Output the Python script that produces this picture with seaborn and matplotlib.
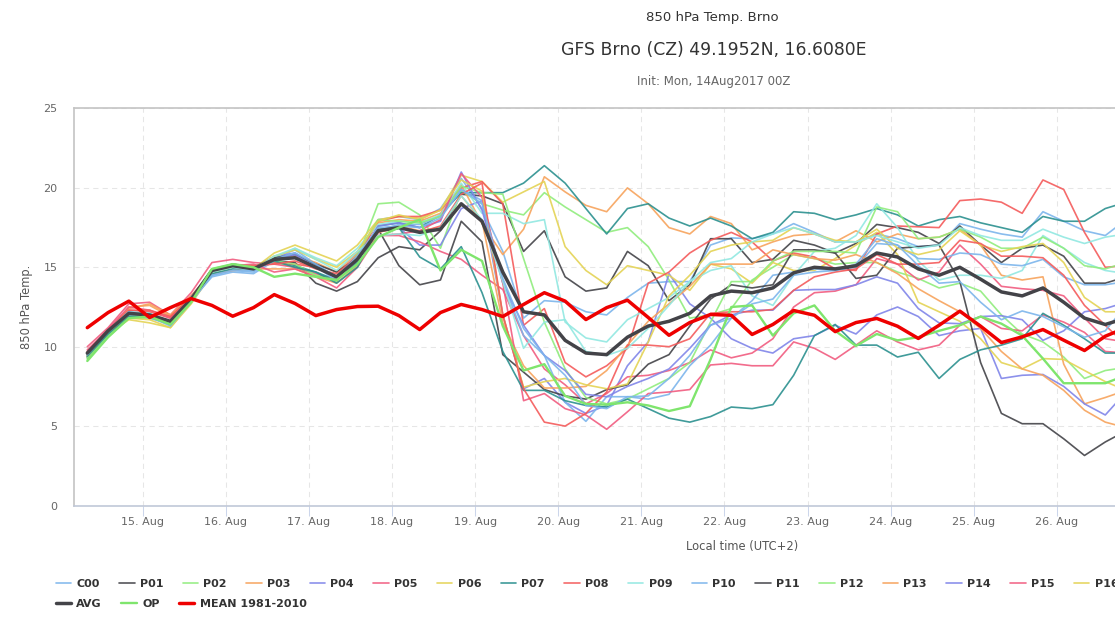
import matplotlib
matplotlib.use("Agg")
import matplotlib.pyplot as plt
import matplotlib.dates as mdates
import pandas as pd
import seaborn as sns

# 6-hourly local times, first run step is 14 Aug 08:00 (UTC+2)
times = pd.date_range("2017-08-14 08:00", periods=51, freq="6h")

C00 = [9.5, 10.9, 12.2, 12.1, 11.4, 12.9, 14.5, 14.8, 14.7, 15.6, 16.1, 15.2, 14.3, 15.9,
       18.0, 18.2, 18.0, 18.7, 20.6, 18.7, 16.0, 11.8, 12.9, 12.8, 12.2, 12.0, 13.1, 14.0, 14.1, 14.1, 16.4, 16.85,
       16.8, 17.1, 17.75, 17.2, 16.6, 16.6, 17.1, 16.8, 16.3, 16.4, 17.75, 17.4, 17.1, 16.9, 18.5, 17.9, 17.3, 17.0, 18.0]
P01 = [9.4, 10.9, 12.0, 12.0, 11.6, 13.0, 14.8, 15.1, 15.0, 15.4, 15.3, 14.0, 13.5, 14.1,
       15.6, 16.3, 16.1, 17.3, 19.6, 19.5, 19.0, 16.0, 17.3, 14.4, 13.5, 13.7, 16.0, 15.1, 12.9, 13.9, 16.8, 16.8,
       15.3, 15.5, 16.7, 16.4, 15.9, 16.5, 17.7, 17.5, 17.2, 16.5, 17.6, 16.4, 15.3, 16.2, 16.4, 15.7, 14.0, 14.0, 14.4]
P02 = [9.2, 10.6, 11.8, 11.8, 11.5, 12.9, 14.8, 15.2, 15.1, 15.3, 15.0, 14.5, 14.2, 15.6,
       19.0, 19.1, 18.3, 16.2, 19.8, 19.0, 18.6, 18.3, 19.7, 18.8, 18.0, 17.2, 17.5, 16.3, 14.2, 11.8, 12.0, 12.4,
       14.2, 15.0, 15.8, 15.55, 15.2, 15.3, 15.3, 14.7, 14.3, 13.7, 14.0, 13.5, 12.0, 10.8, 10.3, 9.35, 8.0, 8.5, 8.7]
P03 = [9.4, 10.9, 12.5, 12.6, 11.9, 13.1, 14.7, 15.0, 14.9, 15.5, 15.7, 15.3, 14.7, 15.9,
       17.8, 18.0, 17.9, 18.4, 20.2, 17.75, 15.8, 17.4, 20.7, 19.75, 18.9, 18.5, 20.0, 19.0, 17.5, 17.1, 18.2, 17.75,
       16.1, 16.6, 17.0, 17.1, 16.6, 17.3, 16.6, 17.1, 16.8, 16.9, 17.4, 16.4, 14.5, 14.2, 14.4, 8.9, 6.4, 6.8, 7.25]
P04 = [9.5, 10.9, 12.1, 12.0, 11.5, 13.0, 14.7, 15.0, 14.9, 15.7, 15.9, 15.0, 14.3, 15.4,
       17.3, 17.5, 16.4, 16.4, 18.7, 19.2, 12.0, 7.35, 8.0, 6.5, 5.8, 6.3, 8.8, 10.3, 14.6, 12.7, 11.8, 10.5,
       9.9, 9.6, 10.5, 10.7, 11.35, 10.8, 12.0, 12.5, 11.9, 10.7, 11.0, 11.15, 8.0, 8.2, 8.25, 7.5, 6.4, 5.7, 7.15]
P05 = [10.0, 11.2, 12.7, 12.8, 12.0, 13.4, 15.3, 15.5, 15.3, 15.2, 15.0, 14.6, 14.2, 15.5,
       17.0, 17.0, 16.6, 16.0, 15.5, 14.5, 13.6, 10.7, 8.6, 7.6, 6.4, 7.05, 8.1, 8.2, 8.5, 9.0, 9.8, 9.3,
       9.6, 10.5, 12.5, 13.4, 13.5, 13.9, 15.55, 15.2, 14.2, 14.7, 16.4, 15.2, 13.8, 13.65, 13.55, 13.2, 11.8, 10.5, 10.3]
P06 = [9.3, 10.8, 11.7, 11.5, 11.2, 12.8, 14.7, 15.2, 14.9, 15.9, 16.4, 15.9, 15.4, 16.4,
       18.0, 18.2, 18.1, 18.6, 20.8, 20.4, 19.1, 19.75, 20.4, 16.3, 14.8, 13.9, 15.1, 14.8, 14.5, 13.55, 15.2, 14.9,
       14.0, 15.3, 14.8, 14.8, 15.55, 16.4, 17.2, 15.8, 12.8, 12.2, 11.6, 10.5, 9.0, 8.6, 9.25, 9.2, 8.5, 7.8, 7.25]
P07 = [9.3, 10.9, 11.9, 11.9, 11.5, 13.0, 14.7, 15.0, 14.9, 15.5, 15.1, 14.7, 14.2, 15.3,
       17.6, 17.8, 17.5, 18.3, 19.7, 19.7, 19.7, 20.3, 21.4, 20.3, 18.7, 17.1, 18.7, 19.0, 18.1, 17.6, 18.1, 17.6,
       16.8, 17.2, 18.5, 18.4, 18.0, 18.3, 18.7, 18.3, 17.6, 18.0, 18.2, 17.8, 17.5, 17.2, 18.2, 17.9, 17.9, 18.7, 19.1]
P08 = [9.7, 11.1, 12.3, 12.2, 11.8, 13.2, 14.7, 15.0, 14.9, 15.3, 15.2, 15.0, 14.4, 15.6,
       17.9, 18.2, 18.2, 18.6, 20.0, 20.4, 19.0, 11.35, 12.4, 9.0, 8.1, 8.8, 9.9, 14.0, 14.7, 15.9, 16.7, 17.2,
       16.6, 15.4, 15.9, 15.65, 14.9, 14.8, 17.1, 17.6, 17.55, 17.5, 19.2, 19.3, 19.1, 18.4, 20.5, 19.9, 17.2, 15.0, 15.1]
P09 = [9.5, 10.9, 12.1, 12.0, 11.5, 12.9, 14.6, 15.0, 14.9, 15.6, 16.2, 15.6, 15.1, 16.2,
       17.7, 17.9, 17.8, 18.3, 20.3, 18.4, 18.4, 17.75, 18.0, 11.55, 10.55, 10.3, 11.7, 12.4, 13.1, 14.1, 14.8, 15.1,
       13.2, 12.6, 14.5, 16.0, 16.2, 17.0, 19.0, 17.5, 15.4, 14.2, 14.5, 14.5, 14.3, 14.8, 17.0, 16.2, 15.3, 14.8, 14.6]
P10 = [9.4, 10.8, 12.0, 11.8, 11.4, 12.9, 14.4, 14.7, 14.6, 15.4, 15.9, 15.1, 14.1, 15.7,
       17.3, 17.7, 17.7, 18.2, 19.9, 19.2, 14.1, 10.7, 9.45, 6.5, 5.3, 6.85, 6.85, 6.7, 7.0, 8.8, 10.1, 11.8,
       12.9, 14.5, 14.7, 14.9, 14.8, 15.0, 16.5, 16.4, 15.55, 15.5, 15.9, 15.8, 15.2, 15.1, 15.5, 14.4, 13.9, 13.9, 14.1]
P11 = [9.5, 11.0, 12.1, 12.0, 11.5, 13.0, 14.8, 15.2, 15.0, 15.6, 15.8, 15.2, 14.7, 15.6,
       17.4, 15.1, 13.9, 14.2, 17.9, 16.6, 9.5, 8.4, 7.3, 6.9, 6.7, 7.3, 7.6, 8.9, 9.5, 11.3, 13.0, 13.9,
       13.7, 13.9, 16.1, 16.1, 15.9, 14.3, 14.5, 16.2, 16.3, 16.4, 14.1, 9.0, 5.8, 5.15, 5.15, 4.2, 3.15, 4.0, 4.7]
P12 = [9.3, 10.7, 11.9, 11.9, 11.5, 13.0, 14.9, 15.2, 15.0, 15.4, 15.2, 14.5, 14.1, 15.8,
       18.0, 17.9, 17.8, 18.2, 20.1, 19.7, 19.6, 15.55, 11.55, 8.6, 6.8, 6.4, 6.7, 7.35, 8.0, 9.0, 11.55, 14.1,
       14.1, 15.4, 16.0, 16.0, 16.0, 15.9, 18.8, 18.5, 16.8, 16.9, 17.4, 16.9, 16.2, 16.2, 16.9, 16.2, 15.1, 14.9, 15.3]
P13 = [9.5, 11.0, 12.4, 12.7, 12.0, 13.2, 14.6, 14.8, 14.9, 14.9, 14.9, 14.4, 14.0, 15.1,
       17.2, 17.6, 17.3, 17.5, 19.5, 17.9, 11.5, 8.8, 7.4, 7.4, 7.5, 8.5, 10.1, 11.6, 12.7, 13.8, 15.2, 15.2,
       15.2, 16.1, 15.8, 15.55, 15.45, 15.8, 15.3, 14.6, 13.65, 12.9, 12.2, 11.15, 9.7, 8.6, 8.2, 7.25, 6.0, 5.25, 4.9]
P14 = [9.6, 11.0, 12.2, 12.0, 11.6, 13.1, 14.6, 15.0, 14.8, 15.5, 15.8, 15.0, 14.4, 15.5,
       17.6, 17.8, 17.5, 17.9, 21.0, 18.6, 14.0, 11.35, 9.45, 8.5, 7.0, 6.85, 7.5, 8.0, 8.6, 9.9, 11.35, 12.0,
       12.3, 12.3, 13.55, 13.6, 13.6, 13.9, 14.4, 14.0, 12.4, 11.5, 11.45, 11.9, 11.95, 11.7, 10.4, 11.0, 12.2, 12.4, 12.8]
P15 = [9.8, 11.1, 12.5, 12.3, 11.8, 13.1, 14.7, 15.1, 15.2, 14.7, 14.9, 14.4, 13.7, 15.0,
       17.0, 17.1, 17.3, 18.0, 20.9, 19.4, 14.0, 6.6, 7.05, 6.1, 5.7, 4.8, 5.9, 7.05, 7.15, 7.3, 8.85, 8.95,
       8.8, 8.8, 10.3, 9.9, 9.2, 10.1, 11.0, 10.3, 9.8, 10.1, 11.35, 11.9, 11.15, 11.0, 12.0, 11.55, 10.9, 9.7, 9.6]
P16 = [9.4, 10.9, 11.8, 11.7, 11.2, 12.7, 14.6, 15.0, 14.9, 15.7, 16.1, 15.5, 15.0, 16.0,
       17.9, 18.3, 18.0, 18.6, 20.5, 19.8, 12.0, 7.45, 7.8, 8.0, 7.6, 7.35, 7.65, 10.3, 13.2, 14.5, 16.0, 16.4,
       16.6, 16.7, 17.5, 17.1, 16.7, 16.6, 17.4, 16.2, 15.8, 16.1, 17.3, 16.4, 16.0, 16.3, 16.5, 15.3, 13.1, 12.2, 12.2]
P17 = [9.4, 10.8, 11.9, 11.9, 11.4, 12.9, 14.6, 14.9, 14.9, 15.4, 15.0, 14.7, 14.0, 15.0,
       17.4, 17.5, 15.65, 14.9, 16.3, 13.4, 9.7, 7.25, 7.25, 6.6, 6.3, 6.2, 6.7, 6.1, 5.5, 5.25, 5.6, 6.2,
       6.1, 6.35, 8.2, 10.7, 11.4, 10.1, 10.1, 9.35, 9.65, 8.0, 9.2, 9.8, 10.1, 10.5, 12.1, 11.35, 10.5, 9.6, 9.6]
P18 = [9.6, 11.0, 12.3, 12.3, 11.9, 13.1, 14.8, 15.1, 15.1, 15.2, 15.4, 14.9, 14.6, 15.7,
       17.2, 17.5, 17.2, 17.6, 19.6, 20.3, 12.0, 7.35, 5.25, 5.0, 5.8, 7.15, 10.1, 10.1, 10.0, 10.5, 12.1, 12.2,
       12.2, 12.35, 13.55, 14.4, 14.7, 14.9, 15.8, 15.2, 15.2, 15.3, 16.7, 16.5, 15.7, 15.7, 15.6, 14.5, 12.6, 11.35, 10.1]
P19 = [9.6, 11.0, 12.2, 12.1, 11.6, 13.1, 14.7, 15.0, 14.8, 15.7, 16.2, 15.5, 14.8, 16.0,
       17.0, 17.1, 17.0, 17.5, 19.5, 18.0, 14.1, 9.9, 11.55, 11.7, 9.7, 9.45, 9.9, 11.15, 12.6, 14.1, 15.3, 15.55,
       16.6, 17.1, 17.5, 17.1, 16.6, 16.6, 17.0, 16.6, 16.2, 16.4, 17.5, 17.0, 16.7, 16.7, 17.4, 16.9, 16.5, 16.9, 17.1]
P20 = [9.5, 11.0, 12.2, 11.9, 11.3, 12.8, 14.5, 14.8, 14.8, 15.5, 15.9, 15.2, 14.4, 15.7,
       17.5, 17.6, 17.5, 18.1, 19.9, 19.0, 14.3, 11.15, 9.45, 8.2, 6.3, 6.1, 6.85, 6.9, 8.0, 9.45, 11.35, 11.8,
       12.7, 13.0, 14.5, 14.7, 14.8, 15.2, 16.8, 16.4, 15.1, 14.0, 14.1, 12.8, 11.7, 12.25, 11.9, 11.25, 10.6, 11.0, 12.6]
AVG = [9.6, 11.0, 12.1, 12.0, 11.6, 13.0, 14.8, 15.1, 14.9, 15.5, 15.6, 15.0, 14.4, 15.5,
       17.3, 17.5, 17.2, 17.4, 19.0, 17.9, 14.7, 12.2, 12.0, 10.4, 9.6, 9.5, 10.6, 11.3, 11.6, 12.1, 13.2, 13.5,
       13.4, 13.7, 14.65, 15.0, 14.9, 15.1, 15.9, 15.65, 14.9, 14.5, 15.0, 14.25, 13.45, 13.2, 13.7, 12.8, 11.8, 11.4, 11.8]
OP = [9.1, 10.6, 11.8, 11.9, 11.4, 12.8, 14.9, 15.2, 15.0, 14.4, 14.6, 14.4, 14.2, 15.2,
      16.9, 17.5, 18.0, 14.8, 16.1, 15.4, 11.3, 8.5, 8.9, 6.9, 6.4, 6.35, 6.5, 6.3, 5.95, 6.25, 9.2, 12.5,
      12.6, 10.7, 12.1, 12.6, 11.0, 10.05, 10.8, 10.4, 10.6, 11.0, 11.35, 11.9, 11.45, 10.7, 9.25, 7.7, 7.7, 7.7, 8.2]
MEAN = [11.2, 12.15, 12.87, 11.84, 12.46, 13.03, 12.6, 11.92, 12.46, 13.28, 12.72, 11.96, 12.34, 12.53,
        12.55, 11.96, 11.08, 12.15, 12.66, 12.34, 11.9, 12.66, 13.4, 12.87, 11.71, 12.46, 12.93, 11.84, 10.72, 11.52, 12.03, 11.98,
        10.77, 11.4, 12.28, 11.98, 10.95, 11.52, 11.78, 11.29, 10.52, 11.35, 12.24, 11.29, 10.26, 10.62, 11.08, 10.41, 9.76, 10.66, 11.2]

members = {"C00": C00, "P01": P01, "P02": P02, "P03": P03, "P04": P04, "P05": P05, "P06": P06,
           "P07": P07, "P08": P08, "P09": P09, "P10": P10, "P11": P11, "P12": P12, "P13": P13,
           "P14": P14, "P15": P15, "P16": P16, "P17": P17, "P18": P18, "P19": P19, "P20": P20}
colors = ["#7cb5ec", "#434348", "#90ed7d", "#f7a35c", "#8085e9",
          "#f15c80", "#e4d354", "#2b908f", "#f45b5b", "#91e8e1"]
y_ticks = [0, 5, 10, 15, 20, 25]

sns.set_theme(style="white", rc={"font.family": "DejaVu Sans"})

W, H = 1115, 619
fig = plt.figure(figsize=(W / 100, H / 100), dpi=100)
ax = fig.add_axes([73.5 / W, 1 - 505.5 / H, (W - 73.5) / W, (505.5 - 108.5) / H])

for i, (name, values) in enumerate(members.items()):
    sns.lineplot(x=times, y=values, color=colors[i % 10], linewidth=1.2, alpha=0.9,
                 estimator=None, label=name, legend=False, ax=ax)
sns.lineplot(x=times, y=AVG, color="#434348", linewidth=2.5, estimator=None, label="AVG", legend=False, ax=ax)
sns.lineplot(x=times, y=OP, color="#7fe56d", linewidth=1.7, estimator=None, label="OP", legend=False, ax=ax)
sns.lineplot(x=times, y=MEAN, color="#ee0000", linewidth=2.5, estimator=None, label="MEAN 1981-2010", legend=False, ax=ax)

# 83.1 px per day, 15 Aug sits at x=142.7
day0 = mdates.date2num(pd.Timestamp("2017-08-15"))
ax.set_xlim(day0 - (142.7 - 73.5) / 83.1, day0 + (W - 142.7) / 83.1)
ax.set_ylim(0, 25)
ax.xaxis.set_major_locator(mdates.DayLocator())
ax.xaxis.set_major_formatter(mdates.DateFormatter("%d. %b"))
ax.set_yticks(y_ticks)
ax.grid(True, linestyle=(0, (5, 4)), color="#e6e6e6", linewidth=0.75)
ax.set_axisbelow(True)
ax.tick_params(axis="both", labelcolor="#666666", labelsize=8)
ax.tick_params(axis="x", bottom=True, length=7.2, width=0.75, color="#ccd6eb", pad=1.3)
ax.tick_params(axis="y", left=False, length=0, pad=11.5)
ax.spines["left"].set_color("#c4c4c4")
ax.spines["top"].set_color("#c4c4c4")
ax.spines["bottom"].set_color("#c0c8d8")
for side in ["left", "top", "bottom"]:
    ax.spines[side].set_linewidth(1.2)
ax.spines["right"].set_visible(False)
ax.set_xlabel("Local time (UTC+2)", fontsize=8.3, color="#555555")
ax.set_ylabel("850 hPa Temp.", fontsize=8.3, color="#555555")
ax.xaxis.set_label_coords((742 - 73.5) / (W - 73.5), -34.5 / 397)
ax.yaxis.set_label_coords((33 - 73.5) / (W - 73.5), 0.5)

fig.text(712 / W, 1 - 18 / H, "850 hPa Temp. Brno", ha="center", va="center", fontsize=9.5, color="#333333")
fig.text(713.5 / W, 1 - 50 / H, "GFS Brno (CZ) 49.1952N, 16.6080E", ha="center", va="center", fontsize=12.4, color="#333333")
fig.text(713.5 / W, 1 - 82 / H, "Init: Mon, 14Aug2017 00Z", ha="center", va="center", fontsize=8.5, color="#666666")

# two legend rows, the page cuts the first one at P16
handles, labels = ax.get_legend_handles_labels()
legend_kw = dict(frameon=False, loc="center left", handlelength=1.4, handletextpad=0.47,
                 columnspacing=1.74, borderpad=0, borderaxespad=0,
                 prop={"weight": "bold", "size": 8})
row1 = fig.legend(handles[:17], labels[:17], ncol=17, bbox_to_anchor=(55.5 / W, 1 - 584 / H), **legend_kw)
row2 = fig.legend(handles[21:], labels[21:], ncol=3, bbox_to_anchor=(55.5 / W, 1 - 604 / H), **legend_kw)
for row in (row1, row2):
    for text in row.get_texts():
        text.set_color("#333333")

fig.savefig("out.png", dpi=100)
